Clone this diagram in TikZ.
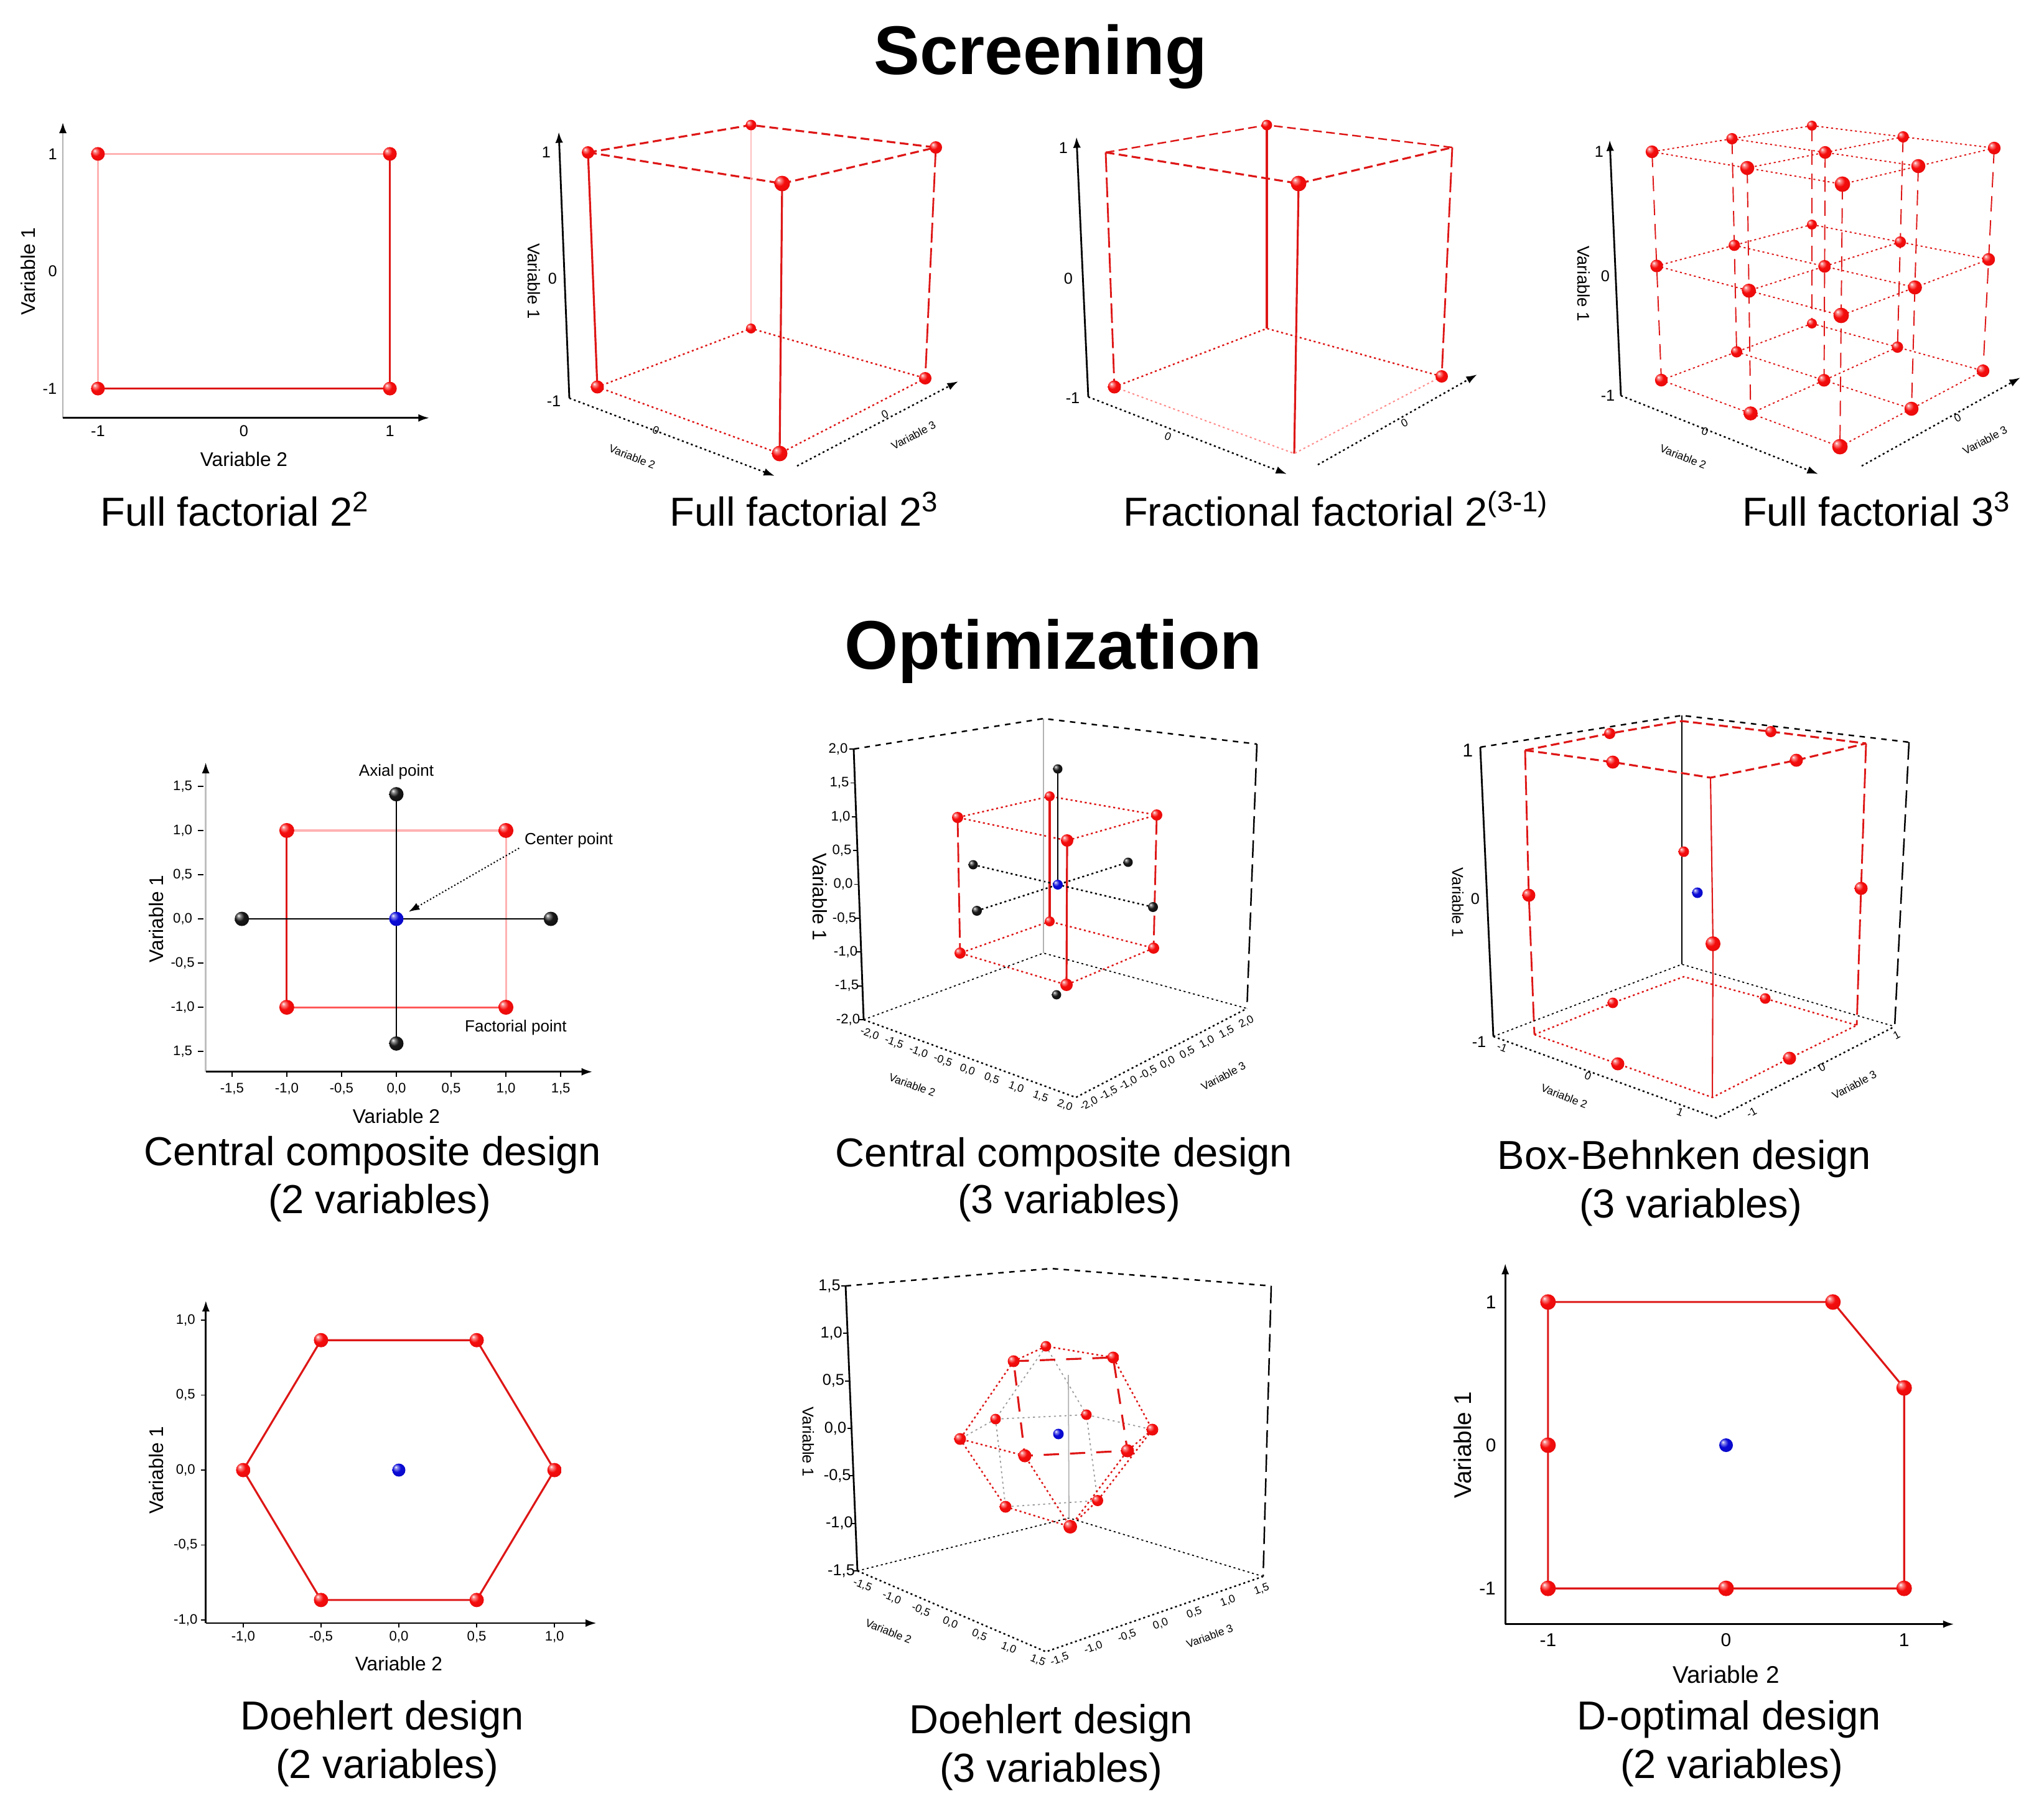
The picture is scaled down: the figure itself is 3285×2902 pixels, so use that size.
\documentclass[tikz,border=0pt]{standalone}
\usepackage{fontspec}
\setmainfont{Liberation Sans}
\usetikzlibrary{arrows.meta,calc}
\pgfdeclarelayer{bg}
\pgfsetlayers{bg,main}
\newcommand\fTitle{\fontsize{31.5pt}{36pt}\selectfont\bfseries}
\newcommand\fCap{\fontsize{18.5pt}{22pt}\selectfont}
\newcommand\fAxA{\fontsize{9pt}{10pt}\selectfont}
\newcommand\fAxB{\fontsize{11pt}{12pt}\selectfont}
\newcommand\fAxC{\fontsize{7.8pt}{9pt}\selectfont}
\newcommand\fTkA{\fontsize{7.2pt}{8pt}\selectfont}
\newcommand\fTkB{\fontsize{6.3pt}{7pt}\selectfont}
\newcommand\fTkC{\fontsize{8.5pt}{9pt}\selectfont}
\newcommand\fAnn{\fontsize{7.4pt}{8pt}\selectfont}
\newcommand\fSm{\fontsize{5pt}{6pt}\selectfont}
\definecolor{rdk}{RGB}{222,22,22}
\definecolor{rbl}{RGB}{245,12,12}
\definecolor{bbl}{RGB}{10,10,215}
\definecolor{kbl}{RGB}{25,25,25}
\pgfdeclareradialshading{rshd}{\pgfpoint{-12bp}{12bp}}{color(0bp)=(white); color(5bp)=(rbl!45!white); color(16bp)=(rbl); color(38bp)=(rbl!92!black); color(50bp)=(rbl!72!black)}
\pgfdeclareradialshading{bshd}{\pgfpoint{-12bp}{12bp}}{color(0bp)=(white); color(5bp)=(bbl!45!white); color(16bp)=(bbl); color(38bp)=(bbl!90!black); color(50bp)=(bbl!70!black)}
\pgfdeclareradialshading{kshd}{\pgfpoint{-12bp}{12bp}}{color(0bp)=(white); color(6bp)=(black!45); color(16bp)=(kbl); color(50bp)=(black)}
\begin{document}
\begin{tikzpicture}[x=0.01cm,y=-0.01cm,
  rball/.style={circle,inner sep=0pt,minimum size=#1,shading=rshd,shade},
  kball/.style={circle,inner sep=0pt,minimum size=#1,shading=kshd,shade},
  bball/.style={circle,inner sep=0pt,minimum size=#1,shading=bshd,shade},
  rline/.style={draw=rdk,line width=0.9pt},
  pline/.style={draw=red!30,line width=0.9pt},
  mline/.style={draw=red!65,line width=0.9pt},
  rdash/.style={draw=rdk,line width=0.9pt,dash pattern=on 4pt off 2pt},
  rldash/.style={draw=rdk,line width=0.8pt,dash pattern=on 9pt off 2.5pt},
  rdot/.style={draw=rdk,line width=0.7pt,dash pattern=on 0.9pt off 1.3pt},
  pdot/.style={draw=red!45,line width=0.6pt,dash pattern=on 0.9pt off 1.3pt},
  gdot/.style={draw=black!40,line width=0.5pt,dash pattern=on 0.9pt off 1.5pt},
  kdot/.style={draw=black,line width=0.7pt,dash pattern=on 0.9pt off 1.3pt},
  kdash/.style={draw=black,line width=0.7pt,dash pattern=on 2.5pt off 2.5pt},
  kline/.style={draw=black,line width=0.8pt},
  gline/.style={draw=black!30,line width=0.5pt},
  axln/.style={draw=black,line width=0.8pt},
  arr/.style={-{Latex[length=5pt,width=3.5pt]}},
]
\useasboundingbox (0,0) rectangle (3285,2902);

% ---------------- titles
\node[font=\fTitle,anchor=base] (tScr) at (1672,119) {Screening};
\node[font=\fTitle,anchor=base] (tOpt) at (1693,1075) {Optimization};

% ---------------- captions
\node[font=\fCap,anchor=base] (cap1) at (378,845) {Full factorial 2\textsuperscript{2}};
\node[font=\fCap,anchor=base] (cap2) at (1293,845) {Full factorial 2\textsuperscript{3}};
\node[font=\fCap,anchor=base] (cap3) at (2147,845) {Fractional factorial 2\textsuperscript{(3-1)}};
\node[font=\fCap,anchor=base] (cap4) at (3016,845) {Full factorial 3\textsuperscript{3}};
\node[font=\fCap,anchor=base] (cap5a) at (599,1873) {Central composite design};
\node[font=\fCap,anchor=base] (cap5b) at (610,1950) {(2 variables)};
\node[font=\fCap,anchor=base] (cap6a) at (1710,1875) {Central composite design};
\node[font=\fCap,anchor=base] (cap6b) at (1718,1950) {(3 variables)};
\node[font=\fCap,anchor=base] (cap7a) at (2707,1879) {Box-Behnken design};
\node[font=\fCap,anchor=base] (cap7b) at (2717,1957) {(3 variables)};
\node[font=\fCap,anchor=base] (cap8a) at (614,2780) {Doehlert design};
\node[font=\fCap,anchor=base] (cap8b) at (622,2858) {(2 variables)};
\node[font=\fCap,anchor=base] (cap9a) at (1689,2786) {Doehlert design};
\node[font=\fCap,anchor=base] (cap9b) at (1689,2864) {(3 variables)};
\node[font=\fCap,anchor=base] (cap10a) at (2779,2780) {D-optimal design};
\node[font=\fCap,anchor=base] (cap10b) at (2783,2858) {(2 variables)};

% ================= Panel 1: full factorial 2^2
\begin{scope}[shift={(392,436)},x={(2.345cm,0cm)},y={(0cm,1.885cm)}]
  \coordinate (o1) at (-1.24,-1.25);
  \coordinate (y1) at (-1.24,1.27);
  \coordinate (x1) at (1.27,-1.25);
  \draw[draw=black!30,line width=0.8pt,-{Latex[length=5pt,width=3.5pt,color=black]}] (o1) -- (y1);
  \draw[axln,arr] (o1) -- (x1);
  \node[rball=0.22cm] (a1) at (-1,1) {};
  \node[rball=0.22cm] (b1) at (1,1) {};
  \node[rball=0.22cm] (c1) at (-1,-1) {};
  \node[rball=0.22cm] (d1) at (1,-1) {};
  \begin{pgfonlayer}{bg}
    \draw[pline] (a1.center) -- (b1.center);
    \draw[pline] (a1.center) -- (c1.center);
    \draw[rline] (b1.center) -- (d1.center);
    \draw[rline] (c1.center) -- (d1.center);
  \end{pgfonlayer}
  \node[font=\fTkA] (t1a) at (-1.31,1) {1};
  \node[font=\fTkA] (t1b) at (-1.31,0) {0};
  \node[font=\fTkA] (t1c) at (-1.33,-1) {-1};
  \node[font=\fTkA] (t1d) at (-1,-1.36) {-1};
  \node[font=\fTkA] (t1e) at (0,-1.36) {0};
  \node[font=\fTkA] (t1f) at (1,-1.36) {1};
  \node[font=\fAxA,rotate=90] (v11) at (-1.48,0) {Variable 1};
  \node[font=\fAxA] (v12) at (0,-1.6) {Variable 2};
\end{scope}

% ================= Panel 2: full factorial 2^3
\coordinate (v2o) at (915,640);
\coordinate (v2t) at (898,212);
\coordinate (f2a) at (1245,765);
\coordinate (f2b) at (1281,749);
\coordinate (f2c) at (1540,613);
\draw[axln,arr] (v2o) -- (v2t);
\draw[kdot,arr] (v2o) -- (f2a);
\draw[kdot,arr] (f2b) -- (f2c);
\node[rball=0.17cm] (tB2) at (1207,201) {};
\node[rball=0.2cm] (tL2) at (945,245) {};
\node[rball=0.2cm] (tR2) at (1504,237) {};
\node[rball=0.25cm] (tF2) at (1257,295) {};
\node[rball=0.16cm] (bB2) at (1207,528) {};
\node[rball=0.21cm] (bL2) at (960,622) {};
\node[rball=0.2cm] (bR2) at (1487,608) {};
\node[rball=0.25cm] (bF2) at (1253,729) {};
\begin{pgfonlayer}{bg}
  \draw[rdash] (tL2.center) -- (tB2.center) -- (tR2.center);
  \draw[rdash] (tL2.center) -- (tF2.center) -- (tR2.center);
  \draw[rline] (tL2.center) -- (bL2.center);
  \draw[rline] (tF2.center) -- (bF2.center);
  \draw[rldash] (tR2.center) -- (bR2.center);
  \draw[draw=red!25,line width=0.5pt] (tB2.center) -- (bB2.center);
  \draw[rdot] (bL2.center) -- (bB2.center) -- (bR2.center);
  \draw[rdot] (bL2.center) -- (bF2.center) -- (bR2.center);
\end{pgfonlayer}
\node[font=\fTkA] (l2a) at (878,245) {1};
\node[font=\fTkA] (l2b) at (888,448) {0};
\node[font=\fTkA] (l2c) at (890,645) {-1};
\node[font=\fAxC,rotate=-90] (l2v) at (858,452) {Variable 1};
\node[font=\fSm,rotate=-21] (l2w) at (1016,734) {Variable 2};
\node[font=\fSm,rotate=-21] (l2w0) at (1054,692) {0};
\node[font=\fSm,rotate=28] (l2x) at (1468,700) {Variable 3};
\node[font=\fSm,rotate=28] (l2x0) at (1422,666) {0};

% ================= Panel 3: fractional factorial
\coordinate (v3o) at (1749,638);
\coordinate (v3t) at (1730,220);
\coordinate (f3a) at (2068,762);
\coordinate (f3b) at (2118,747);
\coordinate (f3c) at (2374,602);
\draw[axln,arr] (v3o) -- (v3t);
\draw[kdot,arr] (v3o) -- (f3a);
\draw[kdot,arr] (f3b) -- (f3c);
\coordinate (tL3) at (1777,245);
\coordinate (tR3) at (2334,237);
\coordinate (bB3) at (2036,528);
\coordinate (bF3) at (2080,729);
\node[rball=0.17cm] (tB3) at (2036,201) {};
\node[rball=0.25cm] (tF3) at (2087,295) {};
\node[rball=0.21cm] (bL3) at (1791,622) {};
\node[rball=0.2cm] (bR3) at (2317,605) {};
\begin{pgfonlayer}{bg}
  \draw[rdash,line width=0.7pt] (tL3) -- (tB3.center) -- (tR3);
  \draw[rdash] (tL3) -- (tF3.center) -- (tR3);
  \draw[rline] (tB3.center) -- (bB3);
  \draw[rline] (tF3.center) -- (bF3);
  \draw[rldash] (tL3) -- (bL3.center);
  \draw[rldash] (tR3) -- (bR3.center);
  \draw[rdot] (bL3.center) -- (bB3) -- (bR3.center);
  \draw[pdot] (bL3.center) -- (bF3) -- (bR3.center);
\end{pgfonlayer}
\node[font=\fTkA] (l3a) at (1709,238) {1};
\node[font=\fTkA] (l3b) at (1717,448) {0};
\node[font=\fTkA] (l3c) at (1724,640) {-1};
\node[font=\fSm,rotate=-21] (l3w0) at (1877,702) {0};
\node[font=\fSm,rotate=28] (l3x0) at (2257,680) {0};

% ================= Panel 4: full factorial 3^3
\coordinate (tL4) at (2655,244);
\coordinate (tB4) at (2912,202);
\coordinate (tR4) at (3205,238);
\coordinate (tF4) at (2961,296);
\coordinate (bL4) at (2670,611);
\coordinate (bB4) at (2912,520);
\coordinate (bR4) at (3187,596);
\coordinate (bF4) at (2957,718);
\coordinate (v4o) at (2605,636);
\coordinate (v4t) at (2587,225);
\coordinate (f4a) at (2922,762);
\coordinate (f4b) at (2992,749);
\coordinate (f4c) at (3247,607);
\draw[axln,arr] (v4o) -- (v4t);
\draw[kdot,arr] (v4o) -- (f4a);
\draw[kdot,arr] (f4b) -- (f4c);
\foreach \s in {0,1,2}{\foreach \t in {0,1,2}{\foreach \h in {0,1,2}{
  \pgfmathsetmacro\fs{\s/2}\pgfmathsetmacro\ft{\t/2}\pgfmathsetmacro\fh{\h/2}
  \coordinate (u1) at ($(tB4)!\ft!(tR4)$);
  \coordinate (u2) at ($(tL4)!\ft!(tF4)$);
  \coordinate (u3) at ($(u1)!\fs!(u2)$);
  \coordinate (w1) at ($(bB4)!\ft!(bR4)$);
  \coordinate (w2) at ($(bL4)!\ft!(bF4)$);
  \coordinate (w3) at ($(w1)!\fs!(w2)$);
  \pgfmathsetmacro\bsz{0.16+0.022*(\s+\t)}
  \node[rball=\bsz cm] (p4-\s\t\h) at ($(u3)!\fh!(w3)$) {};
}}}
\begin{pgfonlayer}{bg}
  \foreach \h in {0,1,2}{\foreach \a in {0,1,2}{
    \draw[rdot,line width=0.55pt] (p4-\a0\h.center) -- (p4-\a1\h.center) -- (p4-\a2\h.center);
    \draw[rdot,line width=0.55pt] (p4-0\a\h.center) -- (p4-1\a\h.center) -- (p4-2\a\h.center);
  }}
  \foreach \s in {0,1,2}{\foreach \t in {0,1,2}{
    \draw[draw=rdk,line width=0.55pt,dash pattern=on 7pt off 4pt] (p4-\s\t0.center) -- (p4-\s\t1.center) -- (p4-\s\t2.center);
  }}
\end{pgfonlayer}
\node[font=\fTkA] (l4a) at (2570,244) {1};
\node[font=\fTkA] (l4b) at (2580,444) {0};
\node[font=\fTkA] (l4c) at (2584,636) {-1};
\node[font=\fAxC,rotate=-90] (l4v) at (2545,456) {Variable 1};
\node[font=\fSm,rotate=-21] (l4w) at (2705,734) {Variable 2};
\node[font=\fSm,rotate=-21] (l4w0) at (2740,694) {0};
\node[font=\fSm,rotate=28] (l4x) at (3190,708) {Variable 3};
\node[font=\fSm,rotate=28] (l4x0) at (3146,672) {0};

% ================= Panel 5: CCD 2 variables
\begin{scope}[shift={(637,1477)},x={(1.76cm,0cm)},y={(0cm,1.42cm)}]
  \coordinate (o5) at (-1.74,-1.73);
  \coordinate (y5) at (-1.74,1.77);
  \coordinate (x5) at (1.79,-1.73);
  \draw[draw=black!25,line width=0.7pt,-{Latex[length=5pt,width=3.5pt,color=black]}] (o5) -- (y5);
  \draw[axln,arr] (o5) -- (x5);
  \foreach \v/\lab [count=\i] in {1.5/{1,5},1/{1,0},0.5/{0,5},0/{0,0},-0.5/{-0,5},-1/{-1,0},-1.5/{1,5}}{
    \draw[black,line width=0.5pt] (-1.76,\v) -- (-1.81,\v);
    \node[font=\fTkB] (yt5-\i) at (-1.95,\v) {\lab};
  }
  \foreach \v/\lab [count=\i] in {-1.5/{-1,5},-1/{-1,0},-0.5/{-0,5},0/{0,0},0.5/{0,5},1/{1,0},1.5/{1,5}}{
    \draw[black,line width=0.5pt] (\v,-1.73) -- (\v,-1.79);
    \node[font=\fTkB] (xt5-\i) at (\v,-1.92) {\lab};
  }
  \node[rball=0.24cm] (fa5) at (-1,1) {};
  \node[rball=0.24cm] (fb5) at (1,1) {};
  \node[rball=0.24cm] (fc5) at (-1,-1) {};
  \node[rball=0.24cm] (fd5) at (1,-1) {};
  \node[kball=0.23cm] (at5) at (0,1.41) {};
  \node[kball=0.23cm] (ab5) at (0,-1.41) {};
  \node[kball=0.23cm] (al5) at (-1.41,0) {};
  \node[kball=0.23cm] (ar5) at (1.41,0) {};
  \node[bball=0.23cm] (c5) at (0,0) {};
  \begin{pgfonlayer}{bg}
    \draw[pline] (fa5.center) -- (fb5.center);
    \draw[pline] (fb5.center) -- (fd5.center);
    \draw[rline] (fa5.center) -- (fc5.center);
    \draw[mline] (fc5.center) -- (fd5.center);
    \draw[kline] (at5.center) -- (c5.center) -- (ab5.center);
    \draw[kline] (al5.center) -- (c5.center) -- (ar5.center);
  \end{pgfonlayer}
  \node[font=\fAnn] (lax5) at (0,1.66) {Axial point};
  \node[font=\fAnn,anchor=west] (lcp5) at (1.1,0.89) {Center point};
  \node[font=\fAnn] (lfp5) at (1.09,-1.23) {Factorial point};
  \coordinate (ca5) at (1.12,0.8);
  \draw[black,line width=0.6pt,densely dotted,arr,shorten >=3pt] (ca5) -- (c5);
  \node[font=\fAxA,rotate=90] (v15) at (-2.19,0) {Variable 1};
  \node[font=\fAxA] (v25) at (0,-2.23) {Variable 2};
\end{scope}

% ================= Panel 6: CCD 3 variables
\coordinate (bx6TL) at (1372,1204);
\coordinate (bx6TB) at (1677,1155);
\coordinate (bx6TR) at (2020,1196);
\coordinate (bx6BL) at (1388,1639);
\coordinate (bx6BB) at (1677,1532);
\coordinate (bx6BR) at (2004,1621);
\coordinate (bx6F) at (1729,1764);
\draw[kdash] (bx6TL) -- (bx6TB) -- (bx6TR);
\draw[kline] (bx6TL) -- (bx6BL);
\draw[kdash,dash pattern=on 8pt off 3pt] (bx6TR) -- (bx6BR);
\draw[gline] (bx6TB) -- (bx6BB);
\draw[kdot,line width=0.5pt] (bx6BL) -- (bx6BB) -- (bx6BR);
\draw[kdot] (bx6BL) -- (bx6F) -- (bx6BR);
\foreach \v/\lab [count=\i] in {2/{2,0},1.5/{1,5},1/{1,0},0.5/{0,5},0/{0,0},-0.5/{-0,5},-1/{-1,0},-1.5/{-1,5},-2/{-2,0}}{
  \pgfmathsetmacro\ff{(2-\v)/4}
  \coordinate (k6-\i) at ($(bx6TL)!\ff!(bx6BL)$);
  \draw[black,line width=0.5pt] (k6-\i) -- ++(-7,0);
  \node[font=\fTkB] (kl6-\i) at ($(k6-\i)+(-25,0)$) {\lab};
}
\foreach \lab [count=\i from 0] in {{-2,0},{-1,5},{-1,0},{-0,5},{0,0},{0,5},{1,0},{1,5},{2,0}}{
  \pgfmathsetmacro\ff{0.04+\i*0.115}
  \node[font=\fSm,rotate=-20] (fl6-\i) at ($(bx6BL)!\ff!(bx6F)+(-4,18)$) {\lab};
  \node[font=\fSm,rotate=28] (fr6-\i) at ($(bx6F)!\ff!(bx6BR)+(10,16)$) {\lab};
}
\node[font=\fAxA,rotate=-90] (l6v) at (1318,1442) {Variable 1};
\node[font=\fSm,rotate=-20] (l6w) at (1466,1744) {Variable 2};
\node[font=\fSm,rotate=28] (l6x) at (1966,1730) {Variable 3};
\node[rball=0.16cm] (tB6) at (1687,1280) {};
\node[rball=0.18cm] (tL6) at (1539,1314) {};
\node[rball=0.18cm] (tR6) at (1859,1310) {};
\node[rball=0.2cm] (tF6) at (1715,1351) {};
\node[rball=0.16cm] (bB6) at (1687,1481) {};
\node[rball=0.18cm] (bL6) at (1543,1532) {};
\node[rball=0.18cm] (bR6) at (1854,1524) {};
\node[rball=0.2cm] (bF6) at (1714,1583) {};
\node[kball=0.15cm] (aT6) at (1700,1236) {};
\node[kball=0.15cm] (aB6) at (1698,1599) {};
\node[kball=0.15cm] (aLB6) at (1564,1390) {};
\node[kball=0.15cm] (aRB6) at (1813,1386) {};
\node[kball=0.16cm] (aLF6) at (1570,1464) {};
\node[kball=0.16cm] (aRF6) at (1853,1458) {};
\node[bball=0.16cm] (c6) at (1700,1422) {};
\begin{pgfonlayer}{bg}
  \draw[rdot] (tB6.center) -- (tL6.center) -- (tF6.center) -- (tR6.center) -- cycle;
  \draw[rdot] (bB6.center) -- (bL6.center) -- (bF6.center) -- (bR6.center) -- cycle;
  \draw[rline] (tB6.center) -- (bB6.center);
  \draw[rline] (tF6.center) -- (bF6.center);
  \draw[rldash] (tL6.center) -- (bL6.center);
  \draw[rldash] (tR6.center) -- (bR6.center);
  \draw[kline,line width=0.6pt] (aT6.center) -- (c6.center);
  \draw[kdot] (aLB6.center) -- (c6.center) -- (aRF6.center);
  \draw[kdot] (aLF6.center) -- (c6.center) -- (aRB6.center);
\end{pgfonlayer}

% ================= Panel 7: Box-Behnken
\coordinate (bx7TL) at (2379,1201);
\coordinate (bx7TB) at (2703,1150);
\coordinate (bx7TR) at (3068,1193);
\coordinate (bx7BL) at (2400,1666);
\coordinate (bx7BB) at (2703,1550);
\coordinate (bx7BR) at (3045,1650);
\coordinate (bx7F) at (2759,1797);
\draw[kdash] (bx7TL) -- (bx7TB) -- (bx7TR);
\draw[kline] (bx7TL) -- (bx7BL);
\draw[kdash,dash pattern=on 8pt off 3pt] (bx7TR) -- (bx7BR);
\draw[kdot,line width=0.5pt] (bx7BL) -- (bx7BB) -- (bx7BR);
\draw[kdot] (bx7BL) -- (bx7F) -- (bx7BR);
\coordinate (rL7) at (2451,1206);
\coordinate (rB7) at (2703,1159);
\coordinate (rR7) at (2999,1195);
\coordinate (rF7) at (2749,1250);
\coordinate (sL7) at (2466,1663);
\coordinate (sB7) at (2706,1570);
\coordinate (sR7) at (2984,1648);
\coordinate (sF7) at (2752,1764);
\node[rball=0.18cm] (m17) at (2587,1179) {};
\node[rball=0.18cm] (m27) at (2846,1176) {};
\node[rball=0.21cm] (m37) at (2592,1225) {};
\node[rball=0.21cm] (m47) at (2887,1222) {};
\node[rball=0.17cm] (n17) at (2592,1612) {};
\node[rball=0.17cm] (n27) at (2837,1605) {};
\node[rball=0.21cm] (n37) at (2600,1710) {};
\node[rball=0.21cm] (n47) at (2876,1701) {};
\node[rball=0.21cm] (e17) at (2457,1439) {};
\node[rball=0.21cm] (e27) at (2991,1428) {};
\node[rball=0.24cm] (e37) at (2753,1517) {};
\node[rball=0.17cm] (e47) at (2706,1369) {};
\node[bball=0.17cm] (c7) at (2728,1435) {};
\begin{pgfonlayer}{bg}
  \draw[kline,line width=0.7pt] (bx7TB) -- (bx7BB);
  \draw[rdash] (rL7) -- (m17.center) -- (rB7) -- (m27.center) -- (rR7);
  \draw[rdash] (rL7) -- (m37.center) -- (rF7) -- (m47.center) -- (rR7);
  \draw[rdot] (sL7) -- (n17.center) -- (sB7) -- (n27.center) -- (sR7);
  \draw[rdot] (sL7) -- (n37.center) -- (sF7) -- (n47.center) -- (sR7);
  \draw[rldash] (rL7) -- (e17.center) -- (sL7);
  \draw[rldash] (rR7) -- (e27.center) -- (sR7);
  \draw[rline,line width=0.6pt] (rF7) -- (e37.center) -- (sF7);
\end{pgfonlayer}
\node[font=\fTkC] (l7a) at (2359,1206) {1};
\node[font=\fTkA] (l7b) at (2371,1445) {0};
\node[font=\fTkA] (l7c) at (2377,1675) {-1};
\node[font=\fTkA,rotate=-90] (l7v) at (2343,1451) {Variable 1};
\node[font=\fSm,rotate=-21] (l7w1) at (2414,1684) {-1};
\node[font=\fSm,rotate=-21] (l7w2) at (2552,1730) {0};
\node[font=\fSm,rotate=-21] (l7w3) at (2700,1788) {1};
\node[font=\fSm,rotate=-21] (l7w) at (2514,1762) {Variable 2};
\node[font=\fSm,rotate=28] (l7x1) at (2815,1788) {-1};
\node[font=\fSm,rotate=28] (l7x2) at (2928,1716) {0};
\node[font=\fSm,rotate=28] (l7x3) at (3048,1664) {1};
\node[font=\fSm,rotate=28] (l7x) at (2980,1744) {Variable 3};

% ================= Panel 8: Doehlert 2 variables
\begin{scope}[shift={(641,2363)},x={(2.5cm,0cm)},y={(0cm,2.41cm)}]
  \coordinate (o8) at (-1.24,-1.02);
  \coordinate (y8) at (-1.24,1.13);
  \coordinate (x8) at (1.27,-1.02);
  \draw[axln,arr] (o8) -- (y8);
  \draw[axln,arr] (o8) -- (x8);
  \foreach \v/\lab [count=\i] in {1/{1,0},0.5/{0,5},0/{0,0},-0.5/{-0,5},-1/{-1,0}}{
    \draw[black,line width=0.5pt] (-1.24,\v) -- (-1.27,\v);
    \node[font=\fTkB] (yt8-\i) at (-1.37,\v) {\lab};
  }
  \foreach \v/\lab [count=\i] in {-1/{-1,0},-0.5/{-0,5},0/{0,0},0.5/{0,5},1/{1,0}}{
    \draw[black,line width=0.5pt] (\v,-1.02) -- (\v,-1.05);
    \node[font=\fTkB] (xt8-\i) at (\v,-1.11) {\lab};
  }
  \node[rball=0.23cm] (h18) at (-0.5,0.866) {};
  \node[rball=0.23cm] (h28) at (0.5,0.866) {};
  \node[rball=0.23cm] (h38) at (1,0) {};
  \node[rball=0.23cm] (h48) at (0.5,-0.866) {};
  \node[rball=0.23cm] (h58) at (-0.5,-0.866) {};
  \node[rball=0.23cm] (h68) at (-1,0) {};
  \node[bball=0.21cm] (c8) at (0,0) {};
  \begin{pgfonlayer}{bg}
    \draw[rline] (h18.center) -- (h28.center) -- (h38.center) -- (h48.center) -- (h58.center) -- (h68.center) -- cycle;
  \end{pgfonlayer}
  \node[font=\fAxA,rotate=90] (v18) at (-1.56,0) {Variable 1};
  \node[font=\fAxA] (v28) at (0,-1.29) {Variable 2};
\end{scope}

% ================= Panel 9: Doehlert 3 variables
\coordinate (bx9TL) at (1359,2067);
\coordinate (bx9TB) at (1689,2039);
\coordinate (bx9TR) at (2043,2067);
\coordinate (bx9BL) at (1378,2525);
\coordinate (bx9BB) at (1718,2440);
\coordinate (bx9BR) at (2030,2534);
\coordinate (bx9F) at (1681,2655);
\coordinate (gv9) at (1717,2210);
\draw[kdash] (bx9TL) -- (bx9TB) -- (bx9TR);
\draw[kline] (bx9TL) -- (bx9BL);
\draw[kdash,dash pattern=on 8pt off 3pt] (bx9TR) -- (bx9BR);
\draw[kdot,line width=0.5pt] (bx9BL) -- (bx9BB) -- (bx9BR);
\draw[kdot] (bx9BL) -- (bx9F) -- (bx9BR);
\draw[gline] (gv9) -- (bx9BB);
\foreach \v/\lab [count=\i] in {1.5/{1,5},1/{1,0},0.5/{0,5},0/{0,0},-0.5/{-0,5},-1/{-1,0},-1.5/{-1,5}}{
  \pgfmathsetmacro\ff{(1.5-\v)/3}
  \coordinate (k9-\i) at ($(bx9TL)!\ff!(bx9BL)$);
  \draw[black,line width=0.5pt] (k9-\i) -- ++(-7,0);
  \node[font=\fTkA] (kl9-\i) at ($(k9-\i)+(-26,0)$) {\lab};
}
\foreach \lab [count=\i from 0] in {{-1,5},{-1,0},{-0,5},{0,0},{0,5},{1,0},{1,5}}{
  \pgfmathsetmacro\ff{0.04+\i*0.155}
  \node[font=\fSm,rotate=-22] (fl9-\i) at ($(bx9BL)!\ff!(bx9F)+(-4,18)$) {\lab};
  \node[font=\fSm,rotate=20] (fr9-\i) at ($(bx9F)!\ff!(bx9BR)+(8,17)$) {\lab};
}
\node[font=\fTkA,rotate=-90] (l9v) at (1299,2318) {Variable 1};
\node[font=\fSm,rotate=-22] (l9w) at (1428,2622) {Variable 2};
\node[font=\fSm,rotate=20] (l9x) at (1944,2630) {Variable 3};
\node[rball=0.17cm] (dA9) at (1681,2164) {};
\node[rball=0.19cm] (dB9) at (1629,2188) {};
\node[rball=0.19cm] (dC9) at (1789,2182) {};
\node[rball=0.17cm] (dD9) at (1600,2281) {};
\node[rball=0.17cm] (dE9) at (1746,2274) {};
\node[rball=0.19cm] (dF9) at (1543,2313) {};
\node[rball=0.19cm] (dG9) at (1852,2298) {};
\node[rball=0.21cm] (dH9) at (1647,2340) {};
\node[rball=0.21cm] (dI9) at (1812,2332) {};
\node[rball=0.19cm] (dJ9) at (1616,2422) {};
\node[rball=0.18cm] (dK9) at (1764,2412) {};
\node[rball=0.22cm] (dL9) at (1720,2454) {};
\node[bball=0.17cm] (c9) at (1701,2305) {};
\begin{pgfonlayer}{bg}
  \draw[gdot] (dA9.center) -- (dD9.center) -- (dE9.center) -- cycle;
  \draw[gdot] (dD9.center) -- (dF9.center);
  \draw[gdot] (dD9.center) -- (dJ9.center) -- (dK9.center) -- (dE9.center) -- (dG9.center);
  \draw[draw=rdk,line width=0.9pt,dash pattern=on 7pt off 5pt] (dB9.center) -- (dC9.center) -- (dI9.center) -- (dH9.center) -- cycle;
  \draw[rdot] (dB9.center) -- (dA9.center) -- (dC9.center);
  \draw[rdot] (dB9.center) -- (dF9.center) -- (dH9.center) -- (dL9.center) -- (dI9.center) -- (dG9.center) -- (dC9.center);
  \draw[rdot] (dF9.center) -- (dJ9.center) -- (dL9.center) -- (dK9.center) -- (dG9.center);
\end{pgfonlayer}

% ================= Panel 10: D-optimal
\begin{scope}[shift={(2774,2323)},x={(2.86cm,0cm)},y={(0cm,2.3cm)}]
  \coordinate (o10) at (-1.24,-1.25);
  \coordinate (y10) at (-1.24,1.27);
  \coordinate (x10) at (1.28,-1.25);
  \draw[axln,arr] (o10) -- (y10);
  \draw[axln,arr] (o10) -- (x10);
  \node[rball=0.25cm] (q1) at (-1,1) {};
  \node[rball=0.25cm] (q2) at (0.6,1) {};
  \node[rball=0.25cm] (q3) at (1,0.4) {};
  \node[rball=0.25cm] (q4) at (1,-1) {};
  \node[rball=0.25cm] (q5) at (0,-1) {};
  \node[rball=0.25cm] (q6) at (-1,-1) {};
  \node[rball=0.25cm] (q7) at (-1,0) {};
  \node[bball=0.22cm] (c10) at (0,0) {};
  \begin{pgfonlayer}{bg}
    \draw[rline] (q1.center) -- (q2.center) -- (q3.center) -- (q4.center) -- (q5.center) -- (q6.center) -- (q7.center) -- cycle;
  \end{pgfonlayer}
  \node[font=\fTkC] (t10a) at (-1.32,1) {1};
  \node[font=\fTkC] (t10b) at (-1.32,0) {0};
  \node[font=\fTkC] (t10c) at (-1.34,-1) {-1};
  \node[font=\fTkC] (t10d) at (-1,-1.36) {-1};
  \node[font=\fTkC] (t10e) at (0,-1.36) {0};
  \node[font=\fTkC] (t10f) at (1,-1.36) {1};
  \node[font=\fAxB,rotate=90] (v110) at (-1.48,0) {Variable 1};
  \node[font=\fAxB] (v210) at (0,-1.6) {Variable 2};
\end{scope}
\end{tikzpicture}
\end{document}
